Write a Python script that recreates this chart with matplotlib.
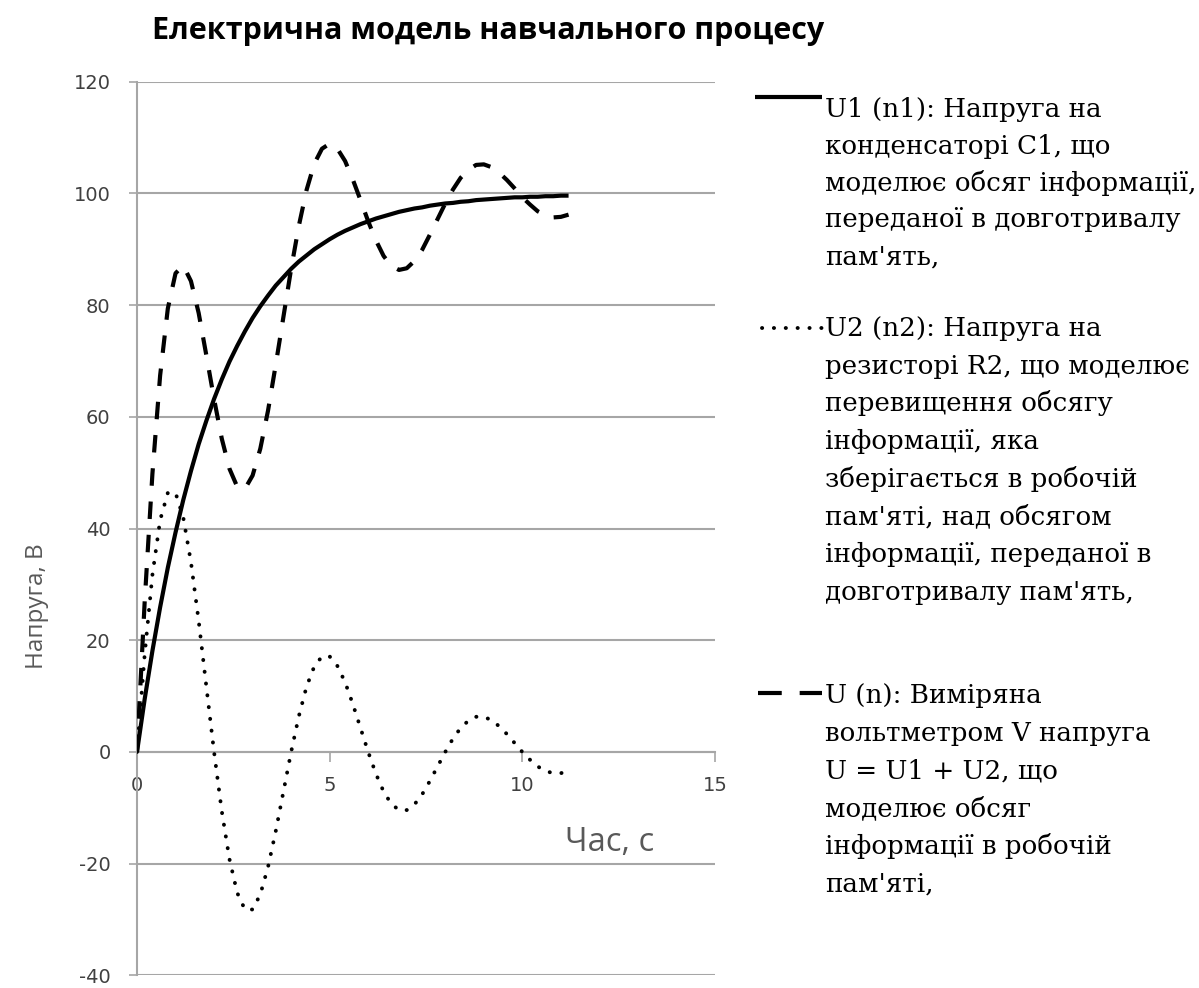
import matplotlib
matplotlib.use('Agg')
import matplotlib.pyplot as plt
from matplotlib.lines import Line2D

plt.rcParams['axes.unicode_minus'] = False

# ---------------- data ----------------
time_s = [0.0, 0.2, 0.4, 0.6, 0.8, 1.0, 1.2, 1.4, 1.6, 1.8,
          2.0, 2.2, 2.4, 2.6, 2.8, 3.0, 3.2, 3.4, 3.6, 3.8,
          4.0, 4.2, 4.4, 4.6, 4.8, 5.0, 5.2, 5.4, 5.6, 5.8,
          6.0, 6.2, 6.4, 6.6, 6.8, 7.0, 7.2, 7.4, 7.6, 7.8,
          8.0, 8.2, 8.4, 8.6, 8.8, 9.0, 9.2, 9.4, 9.6, 9.8,
          10.0, 10.2, 10.4, 10.6, 10.8, 11.0, 11.2]

u1 = [0.0, 9.5, 18.1, 25.9, 33.0, 39.3, 45.1, 50.3, 55.1, 59.3,
      63.2, 66.7, 69.9, 72.7, 75.3, 77.7, 79.8, 81.7, 83.5, 85.0,
      86.5, 87.8, 88.9, 90.0, 90.9, 91.8, 92.6, 93.3, 93.9, 94.5,
      95.0, 95.5, 95.9, 96.3, 96.7, 97.0, 97.3, 97.5, 97.8, 98.0,
      98.2, 98.3, 98.5, 98.6, 98.8, 98.9, 99.0, 99.1, 99.2, 99.3,
      99.3, 99.4, 99.4, 99.5, 99.5, 99.6, 99.6]

u2 = [0.0, 17.5, 31.7, 41.5, 46.4, 46.4, 42.0, 34.0, 23.5, 11.7,
      0.0, -10.6, -19.2, -25.2, -28.2, -28.2, -25.5, -20.6, -14.2, -7.1,
      0.0, 6.4, 11.7, 15.3, 17.1, 17.1, 15.4, 12.5, 8.6, 4.3,
      0.0, -3.9, -7.1, -9.3, -10.4, -10.4, -9.4, -7.6, -5.2, -2.6,
      0.0, 2.4, 4.3, 5.6, 6.3, 6.3, 5.7, 4.6, 3.2, 1.6,
      0.0, -1.4, -2.6, -3.4, -3.8, -3.8, -3.4]

u = [0.0, 27.0, 49.8, 67.4, 79.4, 85.7, 87.1, 84.3, 78.6, 71.0,
     63.2, 56.1, 50.7, 47.5, 47.1, 49.5, 54.3, 61.1, 69.3, 77.9,
     86.5, 94.2, 100.6, 105.3, 108.0, 108.9, 108.0, 105.8, 102.5, 98.8,
     95.0, 91.6, 88.8, 87.0, 86.3, 86.6, 87.9, 89.9, 92.6, 95.4,
     98.2, 100.7, 102.8, 104.2, 105.1, 105.2, 104.7, 103.7, 102.4, 100.9,
     99.3, 98.0, 96.8, 96.1, 95.7, 95.8, 96.2]

x_ticks = [0, 5, 10, 15]
y_ticks = [-40, -20, 0, 20, 40, 60, 80, 100, 120]

title = "Електрична модель навчального процесу"
x_label = "Час, с"
y_label = "Напруга, В"

legend_u1 = ["U1 (n1): Напруга на",
             "конденсаторі C1, що",
             "моделює обсяг інформації,",
             "переданої в довготривалу",
             "пам'ять,"]
legend_u2 = ["U2 (n2): Напруга на",
             "резисторі R2, що моделює",
             "перевищення обсягу",
             "інформації, яка",
             "зберігається в робочій",
             "пам'яті, над обсягом",
             "інформації, переданої в",
             "довготривалу пам'ять,"]
legend_u = ["U (n): Виміряна",
            "вольтметром V напруга",
            "U = U1 + U2, що",
            "моделює обсяг",
            "інформації в робочій",
            "пам'яті,"]

# ---------------- figure ----------------
W, H = 1199, 988
fig = plt.figure(figsize=(W / 100, H / 100), dpi=100)
fig.patch.set_facecolor('white')

def fx(px):
    return px / W

def fy(py):
    return 1 - py / H

ax = fig.add_axes([fx(137), fy(975.4), fx(715) - fx(137), fy(81.7) - fy(975.4)])
ax.set_xlim(0, 15)
ax.set_ylim(-40, 120)
ax.set_xticks(x_ticks)
ax.set_yticks(y_ticks)

grid_col = '#A6A6A6'
ax.grid(axis='y', color=grid_col, lw=1.5)
ax.set_axisbelow(True)
for s in ['top', 'right']:
    ax.spines[s].set_visible(False)
ax.spines['left'].set_color(grid_col)
ax.spines['left'].set_linewidth(1.5)
ax.spines['bottom'].set_position(('data', 0))
ax.spines['bottom'].set_color(grid_col)
ax.spines['bottom'].set_linewidth(1.5)

ax.tick_params(axis='x', direction='out', length=7, width=1.2, color=grid_col,
               pad=10, labelsize=14, labelcolor='#404040')
ax.tick_params(axis='y', direction='out', length=6, width=1.2, color=grid_col,
               pad=13, labelsize=14, labelcolor='#404040')
for lab in ax.get_xticklabels() + ax.get_yticklabels():
    lab.set_fontfamily('DejaVu Sans')

# series
dot_style = (0, (0.05, 3.0))
dash_style = (0, (4.2, 3.8))
ax.plot(time_s, u1, color='black', lw=3.0, solid_capstyle='butt', zorder=3)
ax.plot(time_s, u2, color='black', lw=2.8, linestyle=dot_style,
        dash_capstyle='round', zorder=3)
ax.plot(time_s, u, color='black', lw=3.0, linestyle=dash_style,
        dash_capstyle='butt', zorder=3)

# titles / labels
fig.text(fx(488), fy(31), title, ha='center', va='center', fontsize=22,
         fontweight='bold', family='Open Sans', color='black')
fig.text(fx(37), fy(606), y_label, rotation=90, ha='center', va='center',
         fontsize=17.5, family='Open Sans', color='#595959')
fig.text(fx(610), fy(842), x_label, ha='center', va='center',
         fontsize=23.5, family='Open Sans', color='#595959')

# legend (manual, to mimic the reference layout)
leg_font = dict(fontsize=18.8, family='DejaVu Serif', color='black',
                ha='left', va='baseline')
text_x = fx(825)

def put_lines(lines, first_baseline, step):
    for i, s in enumerate(lines):
        fig.text(text_x, fy(first_baseline + i * step), s, **leg_font)

put_lines(legend_u1, 117, 36.8)
put_lines(legend_u2, 336, 37.7)
put_lines(legend_u, 703, 37.8)

fig.add_artist(Line2D([fx(755), fx(822)], [fy(97), fy(97)], transform=fig.transFigure,
                      color='black', lw=3.0, solid_capstyle='butt'))
fig.add_artist(Line2D([fx(762), fx(822)], [fy(328), fy(328)], transform=fig.transFigure,
                      color='black', lw=2.8, linestyle=dot_style,
                      dash_capstyle='round'))
fig.add_artist(Line2D([fx(758), fx(822)], [fy(693), fy(693)], transform=fig.transFigure,
                      color='black', lw=3.0, linestyle=(0, (5.7, 4.3)),
                      dash_capstyle='butt'))

fig.savefig('out.png', dpi=100, facecolor='white')
